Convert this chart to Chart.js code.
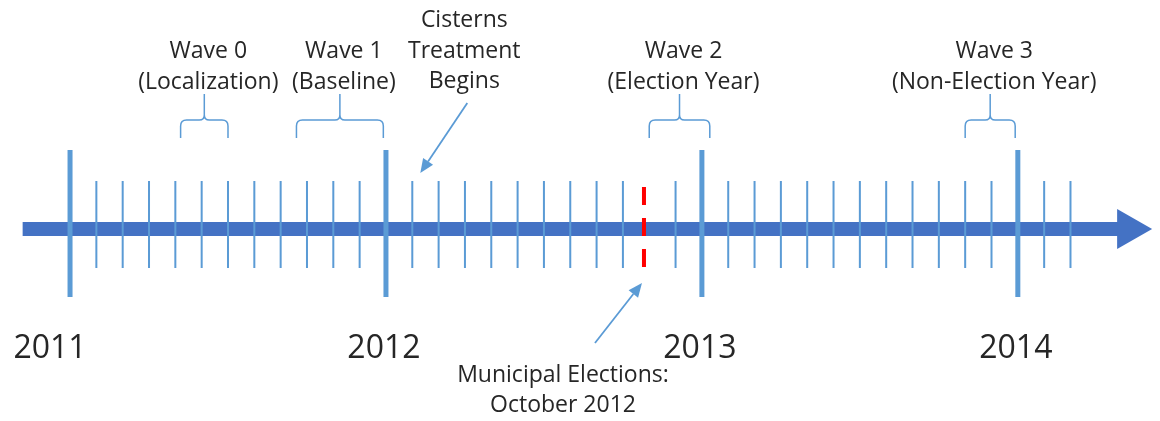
<!DOCTYPE html>
<html>
<head>
<meta charset="utf-8">
<script src="https://cdn.jsdelivr.net/npm/chart.js@4.4.1/dist/chart.umd.min.js"></script>
<style>
  body { margin: 0; background: #fff; }
</style>
</head>
<body>
<canvas id="timeline" width="1160" height="421"></canvas>
<script>
// positions are in months, 0 = January 2011
const years = ["2011", "2012", "2013", "2014"];
const yearMonths = [0, 12, 24, 36];
const monthTicks = [1, 2, 3, 4, 5, 6, 7, 8, 9, 10, 11,
                    13, 14, 15, 16, 17, 18, 19, 20, 21, 23,
                    25, 26, 27, 28, 29, 30, 31, 32, 33, 34, 35,
                    37, 38];
const axisStart = -1.8;
const axisEnd = 41.1;

const waveLabels = [
  ["Wave 0", "(Localization)"],
  ["Wave 1", "(Baseline)"],
  ["Wave 2", "(Election Year)"],
  ["Wave 3", "(Non-Election Year)"]
];
const waveStart = [4.2, 8.6, 22.0, 34.0];
const waveEnd = [6.0, 11.9, 24.3, 35.9];

const electionMonth = 21.8;
const electionLabel = ["Municipal Elections:", "October 2012"];
const cisternsMonth = 13;
const cisternsLabel = ["Cisterns", "Treatment", "Begins"];

const lightBlue = '#5B9BD5';
const darkBlue = '#4472C4';
const textColor = '#262626';
const font = '"Open Sans", "Liberation Sans", sans-serif';

function segments(xs, y0, y1) {
  const pts = [];
  xs.forEach(x => { pts.push({x: x, y: y0}, {x: x, y: y1}, {x: x, y: null}); });
  return pts;
}

function arrow(ctx, x0, y0, x1, y1) {
  const a = Math.atan2(y1 - y0, x1 - x0);
  const c = Math.cos(a), s = Math.sin(a);
  const head = 14, half = 6;
  ctx.beginPath();
  ctx.moveTo(x0, y0);
  ctx.lineTo(x1 - c * head, y1 - s * head);
  ctx.stroke();
  ctx.beginPath();
  ctx.moveTo(x1, y1);
  ctx.lineTo(x1 - c * head - s * half, y1 - s * head + c * half);
  ctx.lineTo(x1 - c * head + s * half, y1 - s * head - c * half);
  ctx.closePath();
  ctx.fill();
}

// main arrow goes under the ticks
const axisArrow = {
  id: 'axisArrow',
  beforeDatasetsDraw(chart) {
    const {ctx, scales: {x, y}} = chart;
    const y0 = y.getPixelForValue(0);
    const x0 = x.getPixelForValue(axisStart);
    const tip = x.getPixelForValue(axisEnd);
    ctx.save();
    ctx.fillStyle = darkBlue;
    ctx.fillRect(x0, y0 - 7, tip - 34 - x0, 14);
    ctx.beginPath();
    ctx.moveTo(tip, y0);
    ctx.lineTo(tip - 35, y0 - 20);
    ctx.lineTo(tip - 35, y0 + 20);
    ctx.closePath();
    ctx.fill();
    ctx.restore();
  }
};

const annotations = {
  id: 'annotations',
  afterDatasetsDraw(chart) {
    const {ctx, scales: {x, y}} = chart;
    ctx.save();
    ctx.fillStyle = textColor;
    ctx.textAlign = 'center';
    ctx.textBaseline = 'alphabetic';

    // year labels
    ctx.font = '32px ' + font;
    years.forEach((t, i) => {
      const px = x.getPixelForValue(yearMonths[i]);
      ctx.fillText(t, i === 0 ? px - 20 : px - 2, y.getPixelForValue(-129));
    });

    // waves with braces
    ctx.font = '23px ' + font;
    ctx.strokeStyle = lightBlue;
    ctx.lineWidth = 1.5;
    waveLabels.forEach((lines, i) => {
      const x1 = x.getPixelForValue(waveStart[i]);
      const x2 = x.getPixelForValue(waveEnd[i]);
      const xm = (x1 + x2) / 2;
      const yb = y.getPixelForValue(91);
      const yh = y.getPixelForValue(109);
      const yt = y.getPixelForValue(135);
      ctx.beginPath();
      ctx.moveTo(x1, yb);
      ctx.lineTo(x1, yh + 6);
      ctx.quadraticCurveTo(x1, yh, x1 + 6, yh);
      ctx.lineTo(xm - 5, yh);
      ctx.quadraticCurveTo(xm, yh, xm, yh - 5);
      ctx.lineTo(xm, yt);
      ctx.moveTo(xm, yh - 5);
      ctx.quadraticCurveTo(xm, yh, xm + 5, yh);
      ctx.lineTo(x2 - 6, yh);
      ctx.quadraticCurveTo(x2, yh, x2, yh + 6);
      ctx.lineTo(x2, yb);
      ctx.stroke();
      ctx.fillText(lines[0], xm + 4, y.getPixelForValue(171));
      ctx.fillText(lines[1], xm + 4, y.getPixelForValue(140));
    });

    // cisterns treatment
    ctx.fillStyle = lightBlue;
    ctx.lineWidth = 1.8;
    const cx = x.getPixelForValue(cisternsMonth) + 8;
    const cy = y.getPixelForValue(56);
    arrow(ctx, cx + 47, cy - 70, cx, cy);
    ctx.fillStyle = textColor;
    cisternsLabel.forEach((t, i) => {
      ctx.fillText(t, cx + 44, y.getPixelForValue(202 - i * 30.5));
    });

    // municipal elections
    ctx.fillStyle = lightBlue;
    const ex = x.getPixelForValue(electionMonth) - 2;
    const ey = y.getPixelForValue(-54);
    arrow(ctx, ex - 47, ey + 60, ex, ey);
    ctx.fillStyle = textColor;
    electionLabel.forEach((t, i) => {
      ctx.fillText(t, ex - 79, y.getPixelForValue(-153 - i * 30));
    });
    ctx.restore();
  }
};

function draw() {
  new Chart(document.getElementById("timeline"), {
    type: 'scatter',
    data: {
      datasets: [{
        data: segments(monthTicks, 48, -39),
        showLine: true,
        borderColor: lightBlue,
        borderWidth: 2,
        pointRadius: 0
      }, {
        data: segments(yearMonths, 79, -68),
        showLine: true,
        borderColor: lightBlue,
        borderWidth: 5,
        pointRadius: 0
      }, {
        data: segments([electionMonth], 42, -39),
        showLine: true,
        borderColor: '#FF0000',
        borderWidth: 4,
        borderDash: [18, 13],
        pointRadius: 0
      }]
    },
    options: {
      responsive: false,
      animation: false,
      devicePixelRatio: 1,
      layout: { padding: 0 },
      scales: {
        x: { type: 'linear', min: -2.66, max: 41.4, display: false },
        y: { min: -192, max: 229, display: false }
      },
      plugins: {
        legend: { display: false },
        tooltip: { enabled: false }
      }
    },
    plugins: [axisArrow, annotations]
  });
}

document.fonts.load('23px "Open Sans"').then(draw, draw);
</script>
</body>
</html>
